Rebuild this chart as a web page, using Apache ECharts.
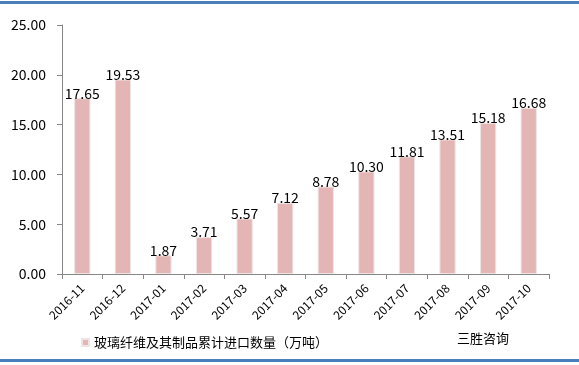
<!DOCTYPE html>
<html><head><meta charset="utf-8">
<script src="https://cdn.jsdelivr.net/npm/echarts@6/dist/echarts.min.js"></script>
<style>html,body{margin:0;padding:0;background:#fff}#c{width:579px;height:365px}</style>
</head><body><div id="c"></div>
<script>
var categories = ['2016-11','2016-12','2017-01','2017-02','2017-03','2017-04','2017-05','2017-06','2017-07','2017-08','2017-09','2017-10'];
var values = [17.65,19.53,1.87,3.71,5.57,7.12,8.78,10.30,11.81,13.51,15.18,16.68];
var seriesName = '玻璃纤维及其制品累计进口数量（万吨）';
var brand = '三胜咨询';
var font = '"Noto Sans CJK SC","Microsoft YaHei",sans-serif';
var chart = echarts.init(document.getElementById('c'));
chart.setOption({
  animation:false,
  grid:{left:62,right:30,top:25,bottom:91},
  legend:{show:true,left:76,top:331,itemWidth:7,itemHeight:7,itemGap:4,
    textStyle:{fontSize:13,color:'#000',fontFamily:font},
    data:[{name:seriesName,icon:'rect'}]},
  xAxis:{type:'category',data:categories,boundaryGap:true,
    axisLine:{lineStyle:{color:'#868686'}},
    axisTick:{show:true,length:5,alignWithLabel:false,lineStyle:{color:'#868686'}},
    axisLabel:{rotate:45,fontSize:12,color:'#000',fontFamily:font,margin:12,interval:0}},
  yAxis:{type:'value',min:0,max:25,interval:5,
    axisLine:{show:true,lineStyle:{color:'#868686'}},
    axisTick:{show:true,length:5,lineStyle:{color:'#868686'}},
    splitLine:{show:false},
    axisLabel:{fontSize:14,color:'#000',fontFamily:font,margin:16,formatter:function(v){return v.toFixed(2);}}},
  series:[{name:seriesName,type:'bar',data:values,barWidth:'40%',
    itemStyle:{color:'#e4b5b5',borderColor:'#efe4e4',borderWidth:1},
    label:{show:true,position:'top',distance:-2,fontSize:14,color:'#000',fontFamily:font,
      formatter:function(p){return p.value.toFixed(2);}}}],
  graphic:[
    {type:'rect',shape:{x:0,y:1,width:579,height:3},style:{fill:'#4a7ebb'}},
    {type:'rect',shape:{x:0,y:359,width:579,height:3},style:{fill:'#4a7ebb'}},
    {type:'text',left:457,top:332,style:{text:brand,fontSize:13,fill:'#000',fontFamily:font}}
  ]
});
</script></body></html>
